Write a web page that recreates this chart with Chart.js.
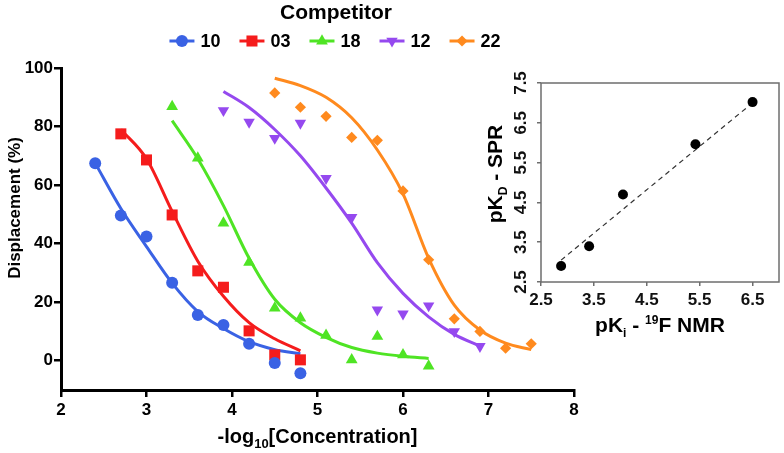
<!DOCTYPE html>
<html><head><meta charset="utf-8">
<script src="https://cdn.jsdelivr.net/npm/chart.js@4/dist/chart.umd.min.js"></script>
<style>
html,body{margin:0;padding:0;background:#fff;}
#wrap{position:relative;width:784px;height:453px;overflow:hidden;background:#fff;}
#main{position:absolute;left:0;top:0;}
#inset{position:absolute;left:470px;top:50px;}
</style></head><body>
<div id="wrap">
<canvas id="main" width="784" height="453"></canvas>
<canvas id="inset" width="314" height="300"></canvas>
</div>
<script>
const FONT = '"Liberation Sans", Arial, Helvetica, sans-serif';

// ---------- main chart data ----------
const legendTitle = 'Competitor';
const seriesLabels = ['10', '03', '18', '12', '22'];
const xTicks = [2, 3, 4, 5, 6, 7, 8];
const yTicks = [0, 20, 40, 60, 80, 100];

const x10 = [2.4, 2.7, 3.0, 3.3, 3.6, 3.9, 4.2, 4.5, 4.8];
const y10 = [67.5, 49.6, 42.4, 26.6, 15.6, 12.2, 5.8, -0.8, -4.3];
const x03 = [2.7, 3.0, 3.3, 3.6, 3.9, 4.2, 4.5, 4.8];
const y03 = [77.5, 68.6, 49.8, 30.7, 25.1, 10.2, 2.0, 0.3];
const x18 = [3.3, 3.6, 3.9, 4.2, 4.5, 4.8, 5.1, 5.4, 5.7, 6.0, 6.3];
const y18 = [86.8, 69.2, 47.0, 33.6, 18.0, 14.6, 8.7, 0.3, 8.3, 2.0, -1.8];
const x12 = [3.9, 4.2, 4.5, 4.8, 5.1, 5.4, 5.7, 6.0, 6.3, 6.6, 6.9];
const y12 = [85.5, 81.5, 76.0, 81.2, 62.3, 49.0, 17.4, 16.0, 18.8, 10.0, 4.9];
const x22 = [4.5, 4.8, 5.1, 5.4, 5.7, 6.0, 6.3, 6.6, 6.9, 7.2, 7.5];
const y22 = [91.5, 86.6, 83.5, 76.3, 75.3, 58.0, 34.5, 14.3, 10.0, 4.3, 5.8];

// fitted curves
const fitX10 = [2.4, 2.7, 3.0, 3.3, 3.6, 3.9, 4.2, 4.5, 4.8];
const fitY10 = [67.5, 52, 39, 26.5, 16.8, 11, 6.5, 3.8, 2.4];
const fitX03 = [2.7, 3.0, 3.3, 3.6, 3.9, 4.2, 4.5, 4.8];
const fitY03 = [79, 69, 51, 34, 22, 13, 7.5, 3.4];
const fitX18 = [3.3, 3.6, 3.9, 4.2, 4.5, 4.8, 5.1, 5.4, 5.7, 6.0, 6.3];
const fitY18 = [82, 69, 53, 35, 21, 13, 8, 4.5, 2.6, 1.5, 0.8];
const fitX12 = [3.9, 4.2, 4.5, 4.8, 5.1, 5.4, 5.7, 6.0, 6.3, 6.6, 6.9];
const fitY12 = [92, 86.5, 79, 70, 59, 47, 33.5, 23, 15, 9, 5];
const fitX22 = [4.5, 4.8, 5.1, 5.4, 5.7, 6.0, 6.3, 6.6, 6.9, 7.2, 7.5];
const fitY22 = [96.5, 94, 90, 83, 72, 57, 35, 19, 10.5, 6, 3.8];

// ---------- inset data ----------
const insetXTicks = [2.5, 3.5, 4.5, 5.5, 6.5];
const insetYTicks = [2.5, 3.5, 4.5, 5.5, 6.5, 7.5];
const pKi = [2.88, 3.41, 4.05, 5.42, 6.50];
const pKd = [2.90, 3.40, 4.70, 5.96, 7.02];
const regX = [2.88, 6.50];
const regY = [3.05, 7.00];

// ---------- styles ----------
const colors = ['#3a62e4', '#f51c1c', '#4fe424', '#9549ef', '#ff8a1e'];
const styles = [
  {pointStyle: 'circle', r: 6, rot: 0},
  {pointStyle: 'rect', r: 7.8, rot: 0},
  {pointStyle: 'triangle', r: 6.8, rot: 0},
  {pointStyle: 'triangle', r: 6.6, rot: 180},
  {pointStyle: 'rectRot', r: 5.6, rot: 0}
];

const pts = (xs, ys) => xs.map((x, i) => ({x: x, y: ys[i]}));
const markerSets = [[x10, y10], [x03, y03], [x18, y18], [x12, y12], [x22, y22]];
const fitSets = [[fitX10, fitY10], [fitX03, fitY03], [fitX18, fitY18], [fitX12, fitY12], [fitX22, fitY22]];

const datasets = [];
markerSets.forEach((s, i) => {
  datasets.push({
    type: 'scatter', label: seriesLabels[i], data: pts(s[0], s[1]),
    backgroundColor: colors[i], borderColor: colors[i], borderWidth: 0,
    pointStyle: styles[i].pointStyle, pointRadius: styles[i].r, pointHoverRadius: styles[i].r,
    pointRotation: styles[i].rot, showLine: false, order: 0
  });
});
fitSets.forEach((s, i) => {
  datasets.push({
    type: 'line', label: 'fit ' + seriesLabels[i], data: pts(s[0], s[1]),
    borderColor: colors[i], backgroundColor: colors[i], borderWidth: 3,
    pointRadius: 0, cubicInterpolationMode: 'monotone', fill: false, order: 1
  });
});

function drawMarker(ctx, st, x, y, color) {
  const r = st.r;
  ctx.save();
  ctx.fillStyle = color;
  ctx.beginPath();
  if (st.pointStyle === 'circle') {
    ctx.arc(x, y, r, 0, Math.PI * 2);
  } else if (st.pointStyle === 'rect') {
    const s = r * Math.SQRT1_2;
    ctx.rect(x - s, y - s, 2 * s, 2 * s);
  } else if (st.pointStyle === 'triangle') {
    let a = st.rot * Math.PI / 180;
    for (let k = 0; k < 3; k++) {
      const px = x + Math.sin(a) * r, py = y - Math.cos(a) * r;
      if (k === 0) ctx.moveTo(px, py); else ctx.lineTo(px, py);
      a += 2 * Math.PI / 3;
    }
    ctx.closePath();
  } else {
    ctx.moveTo(x, y - r); ctx.lineTo(x + r, y); ctx.lineTo(x, y + r); ctx.lineTo(x - r, y);
    ctx.closePath();
  }
  ctx.fill();
  ctx.restore();
}

function drawRich(ctx, parts, cx, baseY, rot) {
  ctx.save();
  ctx.translate(cx, baseY);
  ctx.rotate(rot);
  let total = 0;
  parts.forEach(p => {
    ctx.font = (p.w || 'bold') + ' ' + p.s + 'px ' + FONT;
    p.wid = ctx.measureText(p.t).width;
    total += p.wid;
  });
  let x = -total / 2;
  ctx.textAlign = 'left';
  ctx.textBaseline = 'alphabetic';
  ctx.fillStyle = '#000';
  parts.forEach(p => {
    ctx.font = (p.w || 'bold') + ' ' + p.s + 'px ' + FONT;
    ctx.fillText(p.t, x, p.dy || 0);
    x += p.wid;
  });
  ctx.restore();
}

const mainDecor = {
  id: 'mainDecor',
  afterDraw(chart) {
    const ctx = chart.ctx;
    // legend title
    ctx.save();
    ctx.fillStyle = '#000';
    ctx.textAlign = 'center';
    ctx.textBaseline = 'middle';
    ctx.font = 'bold 21px ' + FONT;
    ctx.fillText(legendTitle, 336, 13);
    // legend items
    ctx.font = 'bold 18px ' + FONT;
    const lineW = 25, gap = 6, itemGap = 19;
    let total = 0;
    const tws = seriesLabels.map(t => ctx.measureText(t).width);
    tws.forEach(w => total += lineW + gap + w);
    total += itemGap * (seriesLabels.length - 1);
    let x = 335 - total / 2;
    const ly = 41;
    seriesLabels.forEach((t, i) => {
      ctx.strokeStyle = colors[i];
      ctx.lineWidth = 3;
      ctx.beginPath();
      ctx.moveTo(x, ly); ctx.lineTo(x + lineW, ly);
      ctx.stroke();
      drawMarker(ctx, styles[i], x + lineW / 2, ly, colors[i]);
      ctx.fillStyle = '#000';
      ctx.textAlign = 'left';
      ctx.textBaseline = 'middle';
      ctx.fillText(t, x + lineW + gap, ly + 1);
      x += lineW + gap + tws[i] + itemGap;
    });
    ctx.restore();
    // axis titles
    drawRich(ctx, [{t: 'Displacement (%)', s: 17}], 20, 208, -Math.PI / 2);
    const ca = chart.chartArea;
    drawRich(ctx, [{t: '-log', s: 20}, {t: '10', s: 13, dy: 5}, {t: '[Concentration]', s: 20}],
      (ca.left + ca.right) / 2, 443, 0);
  }
};

new Chart(document.getElementById('main'), {
  type: 'scatter',
  data: {datasets: datasets},
  options: {
    responsive: false, animation: false, devicePixelRatio: 1,
    layout: {padding: {top: 68, right: 210, bottom: 0, left: 0}},
    plugins: {legend: {display: false}, tooltip: {enabled: false}},
    scales: {
      x: {
        type: 'linear', position: 'bottom', min: 2, max: 8,
        afterBuildTicks: s => { s.ticks = xTicks.map(v => ({value: v})); },
        afterFit: s => { s.height = 63; },
        border: {display: true, color: '#000', width: 3},
        grid: {display: true, drawOnChartArea: false, drawTicks: true, tickLength: 7, color: '#000', lineWidth: 2.5},
        ticks: {color: '#000', font: {family: FONT, size: 17, weight: 'bold'}, padding: 3, maxRotation: 0, autoSkip: false}
      },
      y: {
        type: 'linear', position: 'left', min: -10, max: 100,
        afterBuildTicks: s => { s.ticks = yTicks.map(v => ({value: v})); },
        afterFit: s => { s.width = 61; },
        border: {display: true, color: '#000', width: 3},
        grid: {display: true, drawOnChartArea: false, drawTicks: true, tickLength: 7, color: '#000', lineWidth: 2.5},
        ticks: {color: '#000', font: {family: FONT, size: 17, weight: 'bold'}, padding: 1, autoSkip: false}
      }
    }
  },
  plugins: [mainDecor]
});

// ---------- inset ----------
const insetDecor = {
  id: 'insetDecor',
  afterDraw(chart) {
    const ctx = chart.ctx;
    const ca = chart.chartArea;
    ctx.save();
    ctx.strokeStyle = '#6e6e6e';
    ctx.lineWidth = 1.5;
    ctx.strokeRect(ca.left, ca.top, ca.right - ca.left, ca.bottom - ca.top);
    // rotated y tick labels
    const ys = chart.scales.y;
    ctx.fillStyle = '#111';
    ctx.font = 'bold 17px ' + FONT;
    ctx.textAlign = 'center';
    ctx.textBaseline = 'middle';
    insetYTicks.forEach(v => {
      const py = ys.getPixelForValue(v);
      ctx.save();
      ctx.translate(50, py);
      ctx.rotate(-Math.PI / 2);
      ctx.fillText(v.toFixed(1), 0, 1);
      ctx.restore();
    });
    ctx.restore();
    drawRich(ctx, [{t: 'pK', s: 21}, {t: 'D', s: 12, dy: 5}, {t: ' - SPR', s: 21}], 32, 124, -Math.PI / 2);
    drawRich(ctx, [{t: 'pK', s: 21}, {t: 'i', s: 12, dy: 5}, {t: ' - ', s: 21}, {t: '19', s: 12, dy: -8}, {t: 'F NMR', s: 21}],
      (ca.left + ca.right) / 2, 282, 0);
  }
};

new Chart(document.getElementById('inset'), {
  type: 'scatter',
  data: {
    datasets: [
      {type: 'scatter', label: 'pK', data: pts(pKi, pKd), backgroundColor: '#000', borderColor: '#000',
        pointRadius: 5, pointHoverRadius: 5, borderWidth: 0, order: 0},
      {type: 'line', label: 'fit', data: pts(regX, regY), borderColor: '#333', borderWidth: 1.2,
        borderDash: [5, 4], pointRadius: 0, fill: false, order: 1}
    ]
  },
  options: {
    responsive: false, animation: false, devicePixelRatio: 1,
    layout: {padding: {top: 33, right: 3, bottom: 0, left: 71}},
    plugins: {legend: {display: false}, tooltip: {enabled: false}},
    scales: {
      x: {
        type: 'linear', min: 2.5, max: 7.0,
        afterBuildTicks: s => { s.ticks = insetXTicks.map(v => ({value: v})); },
        afterFit: s => { s.height = 68; },
        border: {display: false},
        grid: {display: true, drawOnChartArea: false, drawTicks: true, tickLength: 4, color: '#6e6e6e', lineWidth: 1.5},
        ticks: {color: '#111', font: {family: FONT, size: 17, weight: 'bold'}, padding: 4, maxRotation: 0, autoSkip: false,
          callback: v => v.toFixed(1)}
      },
      y: {
        type: 'linear', min: 2.5, max: 7.5,
        afterBuildTicks: s => { s.ticks = insetYTicks.map(v => ({value: v})); },
        afterFit: s => { s.width = 0; },
        border: {display: false},
        grid: {display: true, drawOnChartArea: false, drawTicks: true, tickLength: 4, color: '#6e6e6e', lineWidth: 1.5},
        ticks: {display: false}
      }
    }
  },
  plugins: [insetDecor]
});
</script>
</body></html>
